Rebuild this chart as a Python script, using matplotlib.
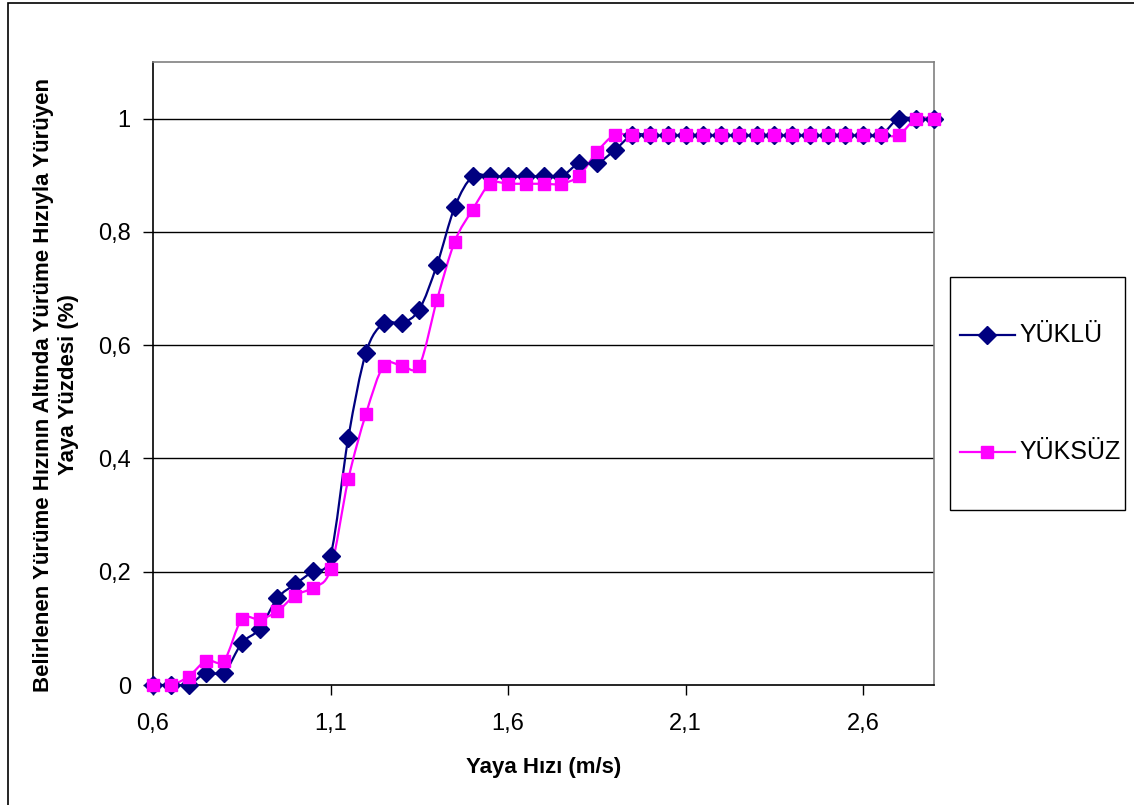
import matplotlib
matplotlib.use("Agg")
import matplotlib.pyplot as plt
from matplotlib.path import Path
from matplotlib.patches import PathPatch, Rectangle
from matplotlib.lines import Line2D
import numpy as np

plt.rcParams['font.family'] = ['Liberation Sans', 'DejaVu Sans']

# walking speed (m/s)
speed = [0.60, 0.65, 0.70, 0.75, 0.80, 0.85, 0.90, 0.95, 1.00, 1.05,
         1.10, 1.15, 1.20, 1.25, 1.30, 1.35, 1.40, 1.45, 1.50, 1.55,
         1.60, 1.65, 1.70, 1.75, 1.80, 1.85, 1.90, 1.95, 2.00, 2.05,
         2.10, 2.15, 2.20, 2.25, 2.30, 2.35, 2.40, 2.45, 2.50, 2.55,
         2.60, 2.65, 2.70, 2.75, 2.80]

yuklu = [0.000, 0.000, 0.000, 0.022, 0.022, 0.074, 0.099, 0.153, 0.178, 0.201,
         0.228, 0.436, 0.587, 0.639, 0.639, 0.663, 0.742, 0.844, 0.898, 0.898,
         0.898, 0.898, 0.898, 0.898, 0.921, 0.921, 0.944, 0.971, 0.971, 0.971,
         0.971, 0.971, 0.971, 0.971, 0.971, 0.971, 0.971, 0.971, 0.971, 0.971,
         0.971, 0.971, 1.000, 1.000, 1.000]

yuksuz = [0.000, 0.000, 0.015, 0.043, 0.043, 0.116, 0.116, 0.130, 0.158, 0.172,
          0.204, 0.363, 0.479, 0.564, 0.564, 0.564, 0.680, 0.783, 0.839, 0.885,
          0.885, 0.885, 0.885, 0.885, 0.899, 0.941, 0.971, 0.971, 0.971, 0.971,
          0.971, 0.971, 0.971, 0.971, 0.971, 0.971, 0.971, 0.971, 0.971, 0.971,
          0.971, 0.971, 0.971, 1.000, 1.000]

series_names = ['YÜKLÜ', 'YÜKSÜZ']
x_ticks = [0.6, 1.1, 1.6, 2.1, 2.6]
y_ticks = [0, 0.2, 0.4, 0.6, 0.8, 1.0]


def smooth_path(x, y):
    # Excel-like smoothed line: cubic bezier through each point
    p = np.column_stack([x, y])
    n = len(p)
    verts = [p[0]]
    codes = [Path.MOVETO]
    for i in range(n - 1):
        p0 = p[i - 1] if i > 0 else p[i]
        p3 = p[i + 2] if i + 2 < n else p[i + 1]
        c1 = p[i] + (p[i + 1] - p0) / 6.0
        c2 = p[i + 1] - (p3 - p[i]) / 6.0
        verts += [c1, c2, p[i + 1]]
        codes += [Path.CURVE4] * 3
    return Path(verts, codes)


W, H = 1134, 805
fig = plt.figure(figsize=(W / 100, H / 100), dpi=100)
ax = fig.add_axes([153 / W, 1 - 685 / H, (934 - 153) / W, (685 - 62) / H])

def fx(px):
    return px / W

def fy(py):
    return 1 - py / H

# outer chart border
fig.patches.append(Rectangle((fx(8), -0.1), 1.2, 1.1 - 3 / H, transform=fig.transFigure,
                             fill=False, edgecolor='black', linewidth=1.2))

for v in y_ticks[1:]:
    ax.axhline(v, color='black', linewidth=1.0, zorder=1)

styles = [('#000080', 'D', 9.5), ('#FF00FF', 's', 8.5)]
for vals, (col, mk, ms) in zip([yuklu, yuksuz], styles):
    ax.add_patch(PathPatch(smooth_path(speed, vals), facecolor='none', edgecolor=col,
                           linewidth=1.6, zorder=2))
    ax.plot(speed, vals, linestyle='none', marker=mk, markersize=ms, color=col,
            markeredgecolor=col, zorder=3, clip_on=False)

ax.set_xlim(0.6, 2.8)
ax.set_ylim(0, 1.1)
ax.set_xticks(x_ticks)
ax.set_xticklabels([f'{t:.1f}'.replace('.', ',') for t in x_ticks])
ax.set_yticks(y_ticks)
ax.set_yticklabels(['0', '0,2', '0,4', '0,6', '0,8', '1'])
ax.tick_params(axis='both', direction='out', length=7, width=1, labelsize=17, colors='black')
ax.tick_params(axis='x', pad=13)
ax.tick_params(axis='y', pad=9)

for s in ['top', 'right']:
    ax.spines[s].set_color('#808080')
    ax.spines[s].set_linewidth(1.2)
for s in ['left', 'bottom']:
    ax.spines[s].set_color('black')
    ax.spines[s].set_linewidth(1.2)

ax.set_xlabel('Yaya Hızı (m/s)', fontsize=16, fontweight='bold', labelpad=16)
fig.text(fx(56), fy(385),
         'Belirlenen Yürüme Hızının Altında Yürüme Hızıyla Yürüyen\nYaya Yüzdesi (%)',
         rotation=90, ha='center', va='center', fontsize=16, fontweight='bold',
         linespacing=1.2)

# legend box drawn by hand so it keeps the reference size
fig.patches.append(Rectangle((fx(950), fy(510)), fx(1125) - fx(950), fy(277) - fy(510),
                             transform=fig.transFigure, fill=False,
                             edgecolor='black', linewidth=1.0))
for name, (col, mk, ms), ly in zip(series_names, styles, [335, 452]):
    fig.lines.append(Line2D([fx(960), fx(1015)], [fy(ly), fy(ly)], color=col,
                            linewidth=1.6, transform=fig.transFigure))
    fig.lines.append(Line2D([fx(987)], [fy(ly)], color=col, marker=mk, markersize=ms,
                            linestyle='none', transform=fig.transFigure))
    fig.text(fx(1019), fy(ly), name, fontsize=18, ha='left', va='center')

fig.savefig('out.png', dpi=100)
